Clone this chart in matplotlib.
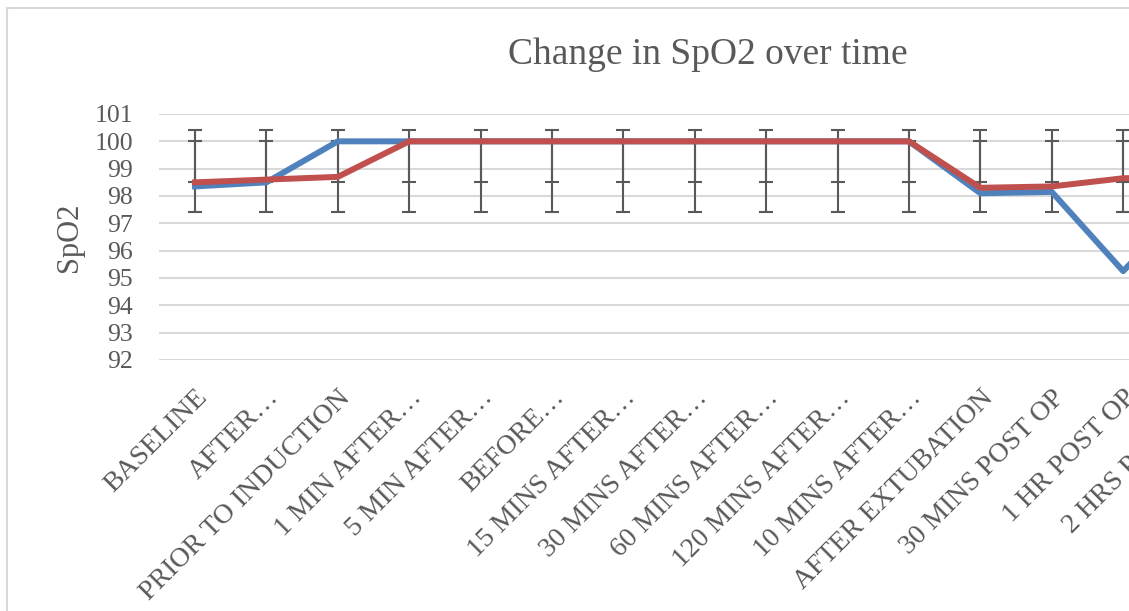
import matplotlib.pyplot as plt
import numpy as np
from matplotlib.patches import Rectangle

# category labels (Excel truncated some with an ellipsis)
labels = ['BASELINE', 'AFTER\u2026', 'PRIOR TO INDUCTION', '1 MIN AFTER\u2026',
          '5 MIN AFTER\u2026', 'BEFORE\u2026', '15 MINS AFTER\u2026', '30 MINS AFTER\u2026',
          '60 MINS AFTER\u2026', '120 MINS AFTER\u2026', '10 MINS AFTER\u2026',
          'AFTER EXTUBATION', '30 MINS POST OP', '1 HR POST OP', '2 HRS POST OP']

spo2_blue = [98.35, 98.5, 100, 100, 100, 100, 100, 100, 100, 100, 100, 98.1, 98.15, 95.25, 98.0]
spo2_red = [98.5, 98.6, 98.7, 100, 100, 100, 100, 100, 100, 100, 100, 98.3, 98.35, 98.65, 98.7]

# Excel "standard deviation" error bars sit on the series mean
blue_err_center = 98.9
blue_err = 1.5
red_err_center = 99.25
red_err = 0.75

W, H = 1129, 611
fig = plt.figure(figsize=(W / 100, H / 100), dpi=100)
plt.rcParams['font.family'] = ['Liberation Serif', 'DejaVu Serif']

# chart area border (cropped on right/bottom)
fig.patches.append(Rectangle((7 / W, -0.1), 2, 1.1 - 8 / H, transform=fig.transFigure,
                             fill=False, edgecolor='#d9d9d9', lw=1.5))

ax = fig.add_axes([159.3 / W, (H - 360) / H, 1071 / W, 246 / H])
x = np.arange(len(labels))

ax.set_xlim(-0.5, len(labels) - 0.5)
ax.set_ylim(92, 101)
ax.set_yticks(np.arange(92, 102, 1))
ax.yaxis.grid(True, color='#d9d9d9', lw=1.5)
ax.set_axisbelow(True)
for s in ax.spines.values():
    s.set_visible(False)

ax.plot(x, spo2_blue, color='#4f81bd', lw=4.3, solid_joinstyle='round', zorder=3)
ax.plot(x, spo2_red, color='#c0504d', lw=4.3, solid_joinstyle='round', zorder=4)

ax.errorbar(x, [blue_err_center] * len(x), yerr=blue_err, fmt='none',
            ecolor='#595959', elinewidth=1.5, capsize=5, capthick=1.5, zorder=2)
ax.errorbar(x, [red_err_center] * len(x), yerr=red_err, fmt='none',
            ecolor='#595959', elinewidth=1.5, capsize=5, capthick=1.5, zorder=2)

ax.set_xticks(x)
ax.set_xticklabels(labels, rotation=45, ha='right', va='top', rotation_mode='anchor',
                   fontsize=20, color='#595959')
ax.tick_params(axis='x', length=0, pad=18)
ax.tick_params(axis='y', length=0, pad=19, labelsize=18.5, labelcolor='#595959')

fig.text(69 / W, 1 - 237 / H, 'SpO2', rotation=90, ha='center', va='center',
         fontsize=22, color='#595959')
fig.text(708 / W, 1 - 55 / H, 'Change in SpO2 over time', ha='center', va='center',
         fontsize=27, color='#595959')

fig.savefig('out.png', dpi=100)
